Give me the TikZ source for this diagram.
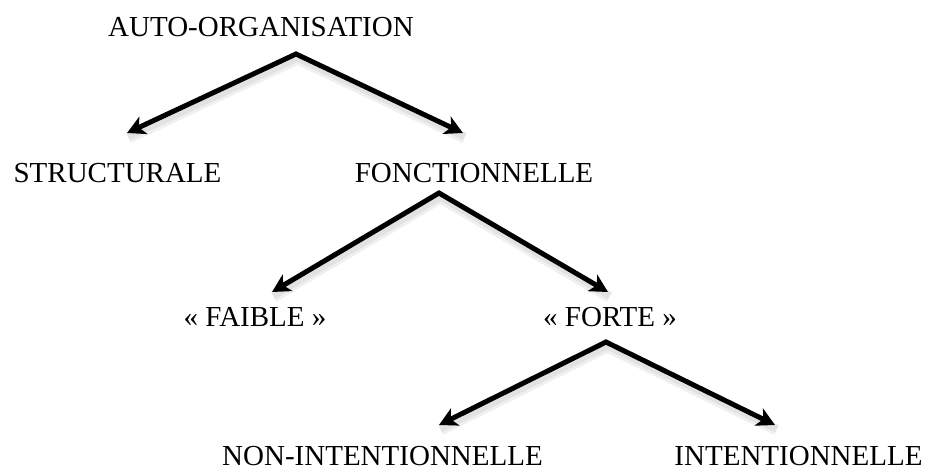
\documentclass[tikz,border=0pt]{standalone}
\usepackage{fontspec}
\setmainfont{Liberation Serif}
\usetikzlibrary{arrows.meta}
\begin{document}
\begin{tikzpicture}[x=1pt,y=-1pt,
  lbl/.style={anchor=base,inner sep=0pt,font=\fontsize{29}{34}\selectfont},
  fork/.style={line width=5pt,line join=miter,
    {Stealth[length=18pt,width=19pt,inset=5pt]}-{Stealth[length=18pt,width=19pt,inset=5pt]}},
  forkshadow/.style={line width=7pt,line join=round,draw=black,opacity=0.06}]
\useasboundingbox (0,0) rectangle (926,472);
\node[lbl] (auto) at (261,36) {AUTO-ORGANISATION};
\node[lbl] (struct) at (117.5,182) {STRUCTURALE};
\node[lbl] (fonct) at (474,182) {FONCTIONNELLE};
\node[lbl] (faible) at (255,326) {« FAIBLE »};
\node[lbl] (forte) at (610,326) {« FORTE »};
\node[lbl] (nonint) at (382.5,465) {NON-INTENTIONNELLE};
\node[lbl] (int) at (798.5,465) {INTENTIONNELLE};
\coordinate (a1) at (296,54);
\coordinate (l1) at (127,133);
\coordinate (r1) at (463,133);
\coordinate (a2) at (439,193);
\coordinate (l2) at (272,292);
\coordinate (r2) at (608,292);
\coordinate (a3) at (606,342);
\coordinate (l3) at (439,425);
\coordinate (r3) at (775,425);
\foreach \l/\a/\r in {l1/a1/r1,l2/a2/r2,l3/a3/r3}{
  \draw[forkshadow,transform canvas={shift={(1.5pt,-4pt)}}] (\l) -- (\a) -- (\r);
  \draw[forkshadow,line width=11pt,transform canvas={shift={(1.5pt,-5pt)}}] (\l) -- (\a) -- (\r);
}
\draw[fork] (l1) -- (a1) -- (r1);
\draw[fork] (l2) -- (a2) -- (r2);
\draw[fork] (l3) -- (a3) -- (r3);
\end{tikzpicture}
\end{document}
